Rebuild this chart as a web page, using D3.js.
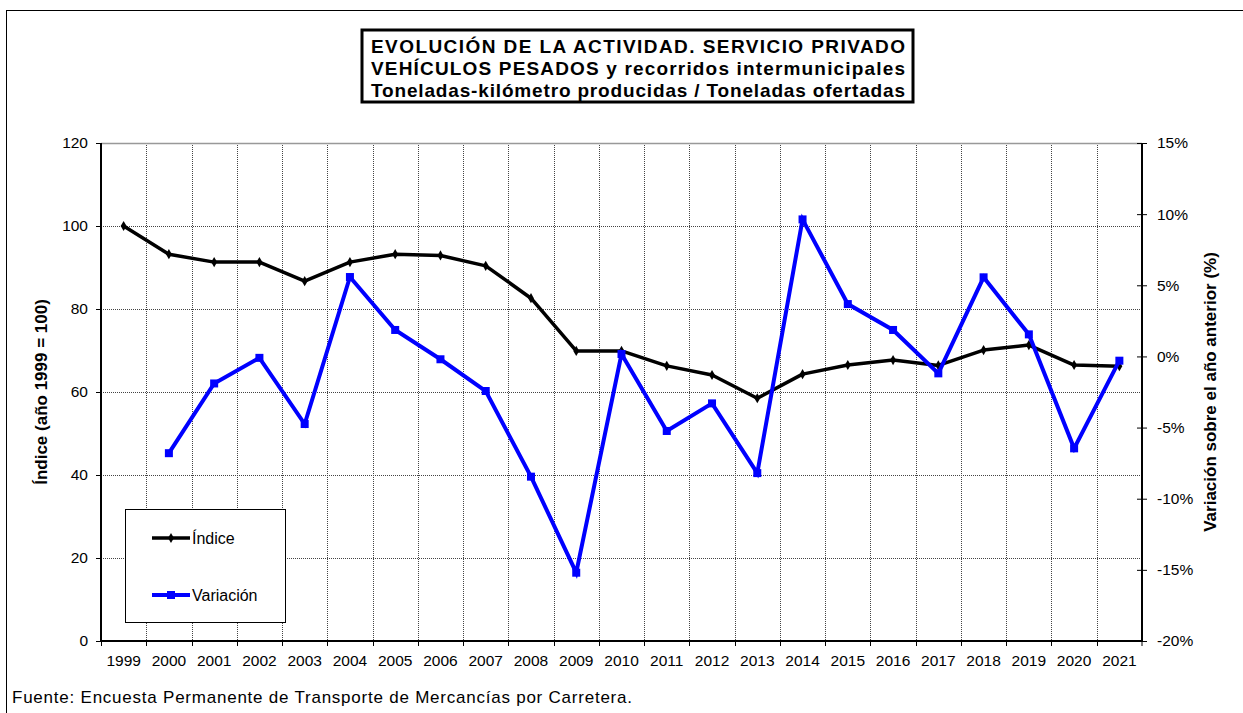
<!DOCTYPE html>
<html>
<head>
<meta charset="utf-8">
<script src="https://cdn.jsdelivr.net/npm/d3@7.9.0/dist/d3.min.js"></script>
<style>
  body { margin: 0; background: #fff; }
  svg { display: block; font-family: "Liberation Sans", Arial, sans-serif; }
</style>
</head>
<body>
<svg id="chart" width="1243" height="713"></svg>
<script>
// datos
const years = ['1999','2000','2001','2002','2003','2004','2005','2006','2007','2008','2009','2010',
  '2011','2012','2013','2014','2015','2016','2017','2018','2019','2020','2021'];
const indice = [100, 93.2, 91.3, 91.3, 86.7, 91.3, 93.2, 92.9, 90.4, 82.6, 69.9, 69.9,
  66.3, 64.1, 58.5, 64.3, 66.5, 67.7, 66.4, 70.1, 71.3, 66.5, 66.2];
const variacion = [null, -6.8, -1.9, -0.1, -4.75, 5.58, 1.86, -0.2, -2.43, -8.45, -15.2, 0.17,
  -5.24, -3.3, -8.2, 9.63, 3.68, 1.86, -1.19, 5.56, 1.55, -6.46, -0.3];
const leftTicks = [0, 20, 40, 60, 80, 100, 120];
const rightTicks = [-20, -15, -10, -5, 0, 5, 10, 15];
const titleLines = [
  'EVOLUCIÓN  DE  LA  ACTIVIDAD.  SERVICIO  PRIVADO',
  'VEHÍCULOS  PESADOS  y  recorridos  intermunicipales',
  'Toneladas-kilómetro producidas / Toneladas ofertadas'
];

const svg = d3.select('#chart');
const plot = { left: 101, right: 1142, top: 143, bottom: 641 };

// marco exterior
svg.append('rect')
  .attr('x', 6.5).attr('y', 10.5)
  .attr('width', 1260).attr('height', 720)
  .attr('fill', 'none').attr('stroke', '#000').attr('stroke-width', 1);

const x = d3.scaleBand().domain(years).range([plot.left, plot.right]).padding(0);
const yL = d3.scaleLinear().domain([0, 120]).range([plot.bottom, plot.top]);
const yR = d3.scaleLinear().domain([-20, 15]).range([plot.bottom, plot.top]);
const cx = d => x(d) + x.bandwidth() / 2;

// rejilla
const grid = svg.append('g').attr('stroke', '#444').attr('stroke-width', 1).attr('stroke-dasharray', '1,1');
grid.selectAll('.gh').data(leftTicks.filter(t => t > 0 && t < 120)).enter().append('line')
  .attr('x1', plot.left).attr('x2', plot.right)
  .attr('y1', d => Math.round(yL(d)) + 0.5).attr('y2', d => Math.round(yL(d)) + 0.5);
grid.selectAll('.gv').data(years.slice(1)).enter().append('line')
  .attr('x1', d => Math.round(x(d)) + 0.5).attr('x2', d => Math.round(x(d)) + 0.5)
  .attr('y1', plot.top).attr('y2', plot.bottom);
svg.append('line')
  .attr('x1', plot.left).attr('x2', plot.right)
  .attr('y1', plot.top + 0.5).attr('y2', plot.top + 0.5)
  .attr('stroke', '#999').attr('stroke-width', 1.5);

// ejes
const axisL = svg.append('g').attr('transform', `translate(${plot.left},0)`)
  .call(d3.axisLeft(yL).tickValues(leftTicks).tickSize(5).tickPadding(8));
const axisR = svg.append('g').attr('transform', `translate(${plot.right},0)`)
  .call(d3.axisRight(yR).tickValues(rightTicks).tickSize(5).tickPadding(10).tickFormat(d => d + '%'));
axisR.selectAll('.tick line').attr('x1', -5);
const axisB = svg.append('g').attr('transform', `translate(0,${plot.bottom})`)
  .call(d3.axisBottom(x).tickSize(0).tickPadding(14));
axisB.selectAll('.gridtick').data(years.concat(['end'])).enter().append('line')
  .attr('x1', (d, i) => i < years.length ? Math.round(x(d)) + 0.5 : plot.right)
  .attr('x2', (d, i) => i < years.length ? Math.round(x(d)) + 0.5 : plot.right)
  .attr('y1', 0).attr('y2', 5).attr('stroke', '#000');

[axisL, axisR, axisB].forEach(a => {
  a.select('.domain').attr('stroke', '#000').attr('stroke-width', 2);
  a.selectAll('.tick line').attr('stroke', '#000');
  a.selectAll('text').attr('font-size', 15.5).attr('fill', '#000')
    .attr('font-family', '"Liberation Sans", Arial, sans-serif');
});
axisL.select('.domain').attr('d', `M0,${plot.top}V${plot.bottom}`);
axisR.select('.domain').attr('d', `M0,${plot.top}V${plot.bottom}`);
axisB.select('.domain').attr('d', `M${plot.left},0H${plot.right}`);

// titulos de ejes
svg.append('text')
  .attr('transform', `translate(47,${(plot.top + plot.bottom) / 2}) rotate(-90)`)
  .attr('text-anchor', 'middle').attr('font-size', 17).attr('font-weight', 'bold')
  .text('Índice (año 1999 = 100)');
svg.append('text')
  .attr('transform', `translate(1216,${(plot.top + plot.bottom) / 2}) rotate(-90)`)
  .attr('text-anchor', 'middle').attr('font-size', 17).attr('font-weight', 'bold')
  .text('Variación sobre el año anterior (%)');

// series
const lineIdx = d3.line().x((d, i) => cx(years[i])).y(d => yL(d));
svg.append('path').datum(indice)
  .attr('d', lineIdx).attr('fill', 'none').attr('stroke', '#000').attr('stroke-width', 3.5)
  .attr('stroke-linejoin', 'round');
svg.selectAll('.mIdx').data(indice).enter().append('path')
  .attr('transform', (d, i) => `translate(${cx(years[i])},${yL(d)})`)
  .attr('d', d3.symbol(d3.symbolDiamond, 30)).attr('fill', '#000');

const varData = variacion.map((v, i) => ({ year: years[i], v })).filter(d => d.v !== null);
const lineVar = d3.line().x(d => cx(d.year)).y(d => yR(d.v));
svg.append('path').datum(varData)
  .attr('d', lineVar).attr('fill', 'none').attr('stroke', '#0000ff').attr('stroke-width', 4)
  .attr('stroke-linejoin', 'miter');
svg.selectAll('.mVar').data(varData).enter().append('rect')
  .attr('x', d => cx(d.year) - 4).attr('y', d => yR(d.v) - 4)
  .attr('width', 8).attr('height', 8).attr('fill', '#0000ff');

// leyenda
const leg = svg.append('g');
leg.append('rect').attr('x', 125.5).attr('y', 509.5).attr('width', 160).attr('height', 113)
  .attr('fill', '#fff').attr('stroke', '#000').attr('stroke-width', 1);
const legItems = [
  { label: 'Índice', color: '#000', y: 538, mark: 'diamond' },
  { label: 'Variación', color: '#0000ff', y: 595, mark: 'square' }
];
legItems.forEach(it => {
  leg.append('line').attr('x1', 152).attr('x2', 190).attr('y1', it.y).attr('y2', it.y)
    .attr('stroke', it.color).attr('stroke-width', it.mark === 'square' ? 4 : 3.5);
  if (it.mark === 'square') {
    leg.append('rect').attr('x', 167).attr('y', it.y - 4).attr('width', 8).attr('height', 8).attr('fill', it.color);
  } else {
    leg.append('path').attr('transform', `translate(171,${it.y})`)
      .attr('d', d3.symbol(d3.symbolDiamond, 30)).attr('fill', it.color);
  }
  leg.append('text').attr('x', 192).attr('y', it.y + 6).attr('font-size', 16).text(it.label);
});

// titulo
svg.append('rect').attr('x', 362).attr('y', 30).attr('width', 551).attr('height', 72)
  .attr('fill', '#fff').attr('stroke', '#000').attr('stroke-width', 3);
svg.selectAll('.title').data(titleLines).enter().append('text')
  .attr('x', 371).attr('y', (d, i) => 53 + i * 22)
  .attr('textLength', 534).attr('lengthAdjust', 'spacing')
  .attr('font-size', 19).attr('font-weight', 'bold')
  .text(d => d);

// fuente
svg.append('text').attr('x', 12).attr('y', 703).attr('font-size', 17)
  .attr('textLength', 620).attr('lengthAdjust', 'spacing')
  .text('Fuente: Encuesta Permanente de Transporte de Mercancías por Carretera.');
</script>
</body>
</html>
